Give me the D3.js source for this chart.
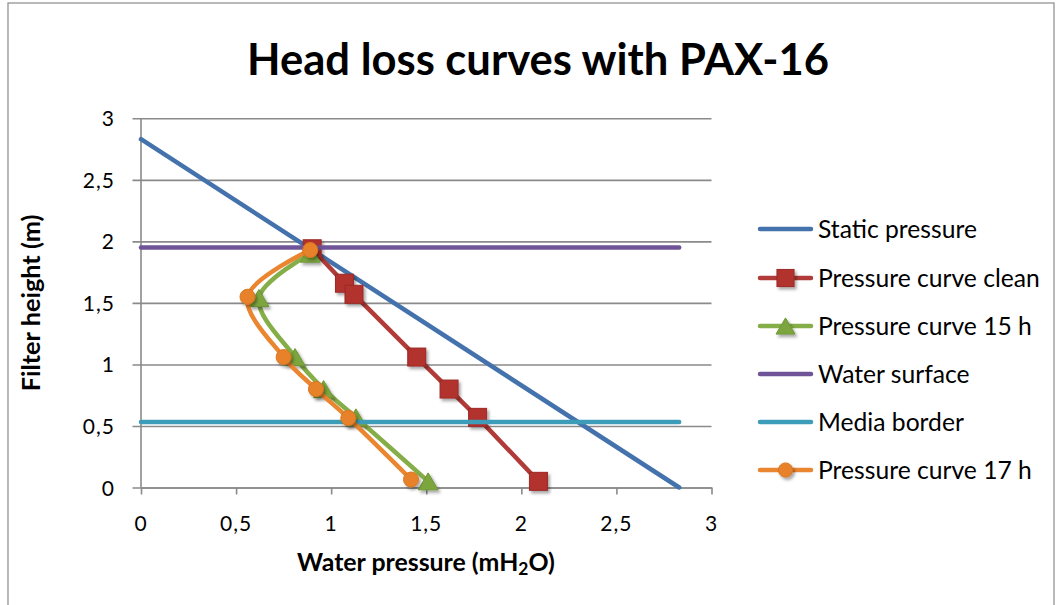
<!DOCTYPE html>
<html><head><meta charset="utf-8">
<script src="https://cdn.jsdelivr.net/npm/d3@7/dist/d3.min.js"></script>
<style>html,body{margin:0;padding:0;background:#fff;} svg{display:block;font-family:Lato,"Open Sans",sans-serif;}</style>
</head><body>
<svg id="chart" width="1057" height="605"></svg>
<script>
// ---- data ----
const xTicks = [0, 0.5, 1, 1.5, 2, 2.5, 3];
const xTickLabels = ["0", "0,5", "1", "1,5", "2", "2,5", "3"];
const yTicks = [0, 0.5, 1, 1.5, 2, 2.5, 3];
const yTickLabels = ["0", "0,5", "1", "1,5", "2", "2,5", "3"];

const staticX = [0, 2.83];
const staticY = [2.83, 0];
const cleanX = [0.90, 1.07, 1.12, 1.45, 1.62, 1.77, 2.09];
const cleanY = [1.94, 1.66, 1.57, 1.06, 0.80, 0.57, 0.05];
const h15X = [0.89, 0.62, 0.81, 0.96, 1.13, 1.51];
const h15Y = [1.90, 1.54, 1.06, 0.80, 0.57, 0.05];
const waterX = [0, 2.83];
const waterY = [1.95, 1.95];
const mediaX = [0, 2.83];
const mediaY = [0.533, 0.533];
const h17X = [0.89, 0.56, 0.75, 0.92, 1.09, 1.42];
const h17Y = [1.93, 1.55, 1.06, 0.80, 0.565, 0.065];

const seriesNames = ["Static pressure", "Pressure curve clean", "Pressure curve 15 h", "Water surface", "Media border", "Pressure curve 17 h"];
const seriesColors = ["#4472AC", "#B03B38", "#86AE48", "#6F5597", "#3D9DB8", "#EA8530"];
const markerFill = ["none", "#B2302D", "#7CA63E", "none", "none", "#E8822A"];
const markerTypes = ["none", "square", "triangle", "none", "none", "circle"];
const smooth = [false, false, true, false, false, true];

const title = "Head loss curves with PAX-16";
const yTitle = "Filter height (m)";

// ---- layout ----
const svg = d3.select("#chart");
const plot = {left: 141, right: 711.5, top: 118.3, bottom: 487.5};
const x = d3.scaleLinear().domain([0, 3]).range([plot.left, plot.right]);
const y = d3.scaleLinear().domain([0, 3]).range([plot.bottom, plot.top]);

function fit(sel, target) {
  const w = sel.node().getComputedTextLength();
  const fs = parseFloat(sel.attr("font-size"));
  sel.attr("font-size", fs * target / w);
}

const defs = svg.append("defs");
const f = defs.append("filter").attr("id", "sh").attr("x", "-50%").attr("y", "-50%").attr("width", "200%").attr("height", "200%");
f.append("feDropShadow").attr("dx", 2).attr("dy", 2.5).attr("stdDeviation", 1.6).attr("flood-color", "#000").attr("flood-opacity", 0.35);

// border
svg.append("rect").attr("x", 8).attr("y", 3).attr("width", 1046).attr("height", 640)
  .attr("fill", "#fff").attr("stroke", "#8a8a8a").attr("stroke-width", 1.2);

// title
const t = svg.append("text").attr("x", 538).attr("y", 75).attr("text-anchor", "middle")
  .attr("font-weight", "bold").attr("font-size", 40).attr("fill", "#000").text(title);
fit(t, 582);

// gridlines (y)
const yAxis = d3.axisLeft(y).tickValues(yTicks).tickSize(-(plot.right - plot.left)).tickSizeOuter(0)
  .tickFormat("");
const gy = svg.append("g").attr("transform", `translate(${plot.left},0)`).call(yAxis);
gy.select(".domain").remove();
gy.selectAll(".tick line").attr("stroke", "#8a8a8a").attr("stroke-width", 1.6).attr("x1", -8.5);
gy.selectAll(".tick text").remove();

// y tick labels
svg.append("g").selectAll("text").data(yTicks).join("text")
  .attr("x", 115).attr("y", d => y(d) + 8).attr("text-anchor", "end")
  .attr("font-size", 21).attr("letter-spacing", 1).attr("fill", "#000")
  .text((d, i) => yTickLabels[i]);

// y axis line
svg.append("line").attr("x1", plot.left).attr("x2", plot.left).attr("y1", plot.top).attr("y2", plot.bottom)
  .attr("stroke", "#8a8a8a").attr("stroke-width", 1.6);

// x axis
const xAxis = d3.axisBottom(x).tickValues(xTicks).tickSize(7).tickSizeOuter(0).tickFormat("");
const gx = svg.append("g").attr("transform", `translate(0,${plot.bottom})`).call(xAxis);
gx.select(".domain").attr("stroke", "#8a8a8a").attr("stroke-width", 1.6);
gx.selectAll(".tick line").attr("stroke", "#8a8a8a").attr("stroke-width", 1.6);
gx.selectAll(".tick text").remove();

svg.append("g").selectAll("text").data(xTicks).join("text")
  .attr("x", d => x(d)).attr("y", plot.bottom + 43).attr("text-anchor", "middle")
  .attr("font-size", 21).attr("letter-spacing", 1).attr("fill", "#000")
  .text((d, i) => xTickLabels[i]);

// axis titles
const xt = svg.append("text").attr("x", 426).attr("y", 571).attr("text-anchor", "middle")
  .attr("font-weight", "bold").attr("font-size", 19).attr("fill", "#000");
xt.append("tspan").text("Water pressure (mH");
xt.append("tspan").attr("font-size", "0.7em").attr("dy", 4).text("2");
xt.append("tspan").attr("dy", -4).text("O)");
fit(xt, 258);

const yt = svg.append("text").attr("transform", `translate(40,${(plot.top + plot.bottom) / 2}) rotate(-90)`)
  .attr("text-anchor", "middle").attr("font-weight", "bold").attr("font-size", 19).attr("fill", "#000").text(yTitle);
fit(yt, 177);

// series
const allX = [staticX, cleanX, h15X, waterX, mediaX, h17X];
const allY = [staticY, cleanY, h15Y, waterY, mediaY, h17Y];

function drawMarker(g, type, cx, cy, i, scale) {
  const s = scale || 1;
  if (type === "square") {
    const a = 18 * s;
    g.append("rect").attr("x", cx - a / 2).attr("y", cy - a / 2).attr("width", a).attr("height", a)
      .attr("fill", markerFill[i]).attr("stroke", "#9C2A27").attr("stroke-width", 1).attr("filter", "url(#sh)");
  } else if (type === "triangle") {
    const w = 20 * s, h = 17 * s;
    g.append("path").attr("d", `M${cx},${cy - h / 2}L${cx + w / 2},${cy + h / 2}L${cx - w / 2},${cy + h / 2}Z`)
      .attr("fill", markerFill[i]).attr("stroke", "#6E9636").attr("stroke-width", 1).attr("filter", "url(#sh)");
  } else if (type === "circle") {
    g.append("circle").attr("cx", cx).attr("cy", cy).attr("r", 7.5 * s)
      .attr("fill", markerFill[i]).attr("stroke", "#D9761F").attr("stroke-width", 1).attr("filter", "url(#sh)");
  }
}

const gs = svg.append("g");
for (let i = 0; i < seriesNames.length; i++) {
  const pts = allX[i].map((v, k) => [v, allY[i][k]]);
  const line = d3.line().x(d => x(d[0])).y(d => y(d[1]))
    .curve(smooth[i] ? d3.curveCatmullRom.alpha(0.5) : d3.curveLinear);
  const g = gs.append("g");
  g.append("path").attr("d", line(pts)).attr("fill", "none").attr("stroke", seriesColors[i])
    .attr("stroke-width", 4.5).attr("stroke-linecap", "round").attr("stroke-linejoin", "round");
  if (markerTypes[i] !== "none") {
    pts.forEach(p => drawMarker(g, markerTypes[i], x(p[0]), y(p[1]), i));
  }
}

// legend
const legRows = [229, 278, 326, 374, 422, 470];
const lg = svg.append("g");
let legTexts = [];
seriesNames.forEach((name, i) => {
  const ry = legRows[i];
  lg.append("line").attr("x1", 760).attr("x2", 811).attr("y1", ry).attr("y2", ry)
    .attr("stroke", seriesColors[i]).attr("stroke-width", 4.5).attr("stroke-linecap", "round");
  if (markerTypes[i] !== "none") drawMarker(lg, markerTypes[i], 785.5, ry, i, 0.95);
  const tx = lg.append("text").attr("x", 818).attr("y", ry).attr("dy", "0.35em")
    .attr("font-size", 21).attr("fill", "#000").text(name);
  legTexts.push(tx);
});
// fit legend font on longest entry
const w1 = legTexts[1].node().getComputedTextLength();
const lfs = 21 * 222 / w1;
legTexts.forEach(tx => tx.attr("font-size", lfs));
</script>
</body></html>
